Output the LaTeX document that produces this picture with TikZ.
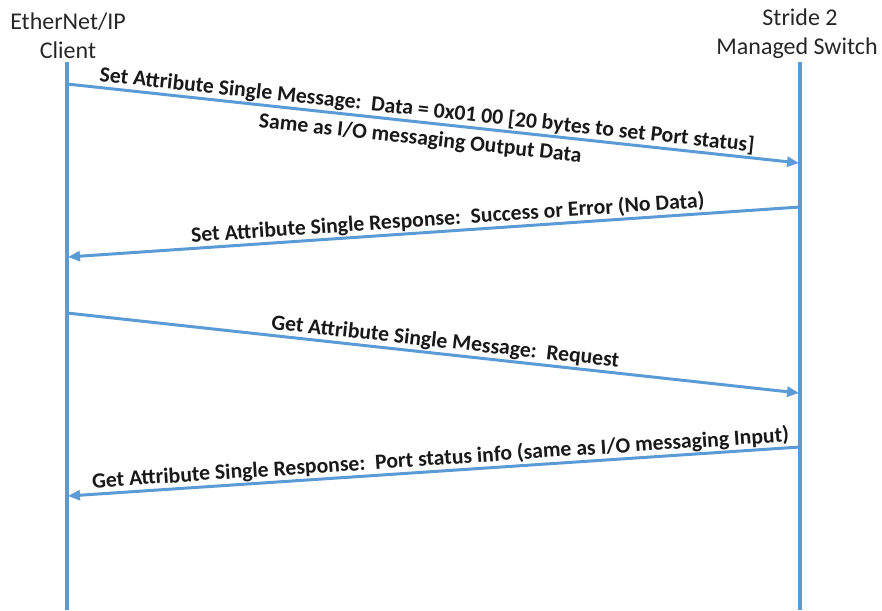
\documentclass[tikz,border=0pt]{standalone}
\usepackage{fontspec}
\setmainfont{Carlito}
\usetikzlibrary{arrows.meta}
\definecolor{lineblue}{RGB}{91,155,213}
\tikzset{
  header/.style={font=\fontsize{24}{28}\selectfont, text=black!85, inner sep=0pt, anchor=base},
  lifeline/.style={draw=lineblue, line width=3.4pt},
  msg/.style={draw=lineblue, line width=3pt, -{Triangle[length=12pt,width=10pt]}},
  lbl/.style={font=\bfseries\fontsize{21.7}{25}\selectfont, text=black!90, sloped, inner sep=1pt}
}
\begin{document}
\begin{tikzpicture}[x=1pt,y=-1pt]
\useasboundingbox (0,0) rectangle (882,610);
% headers
\node[header] (c1) at (68,30) {EtherNet/IP};
\node[header] (c2) at (68,58) {Client};
\node[header] (s1) at (800,26) {Stride 2};
\node[header] (s2) at (797,54) {Managed Switch};
% lifelines
\coordinate (ltop) at (67,62);
\coordinate (lbot) at (67,610);
\coordinate (rtop) at (800,62);
\coordinate (rbot) at (800,610);
\draw[lifeline] (ltop) -- (lbot);
\draw[lifeline] (rtop) -- (rbot);
% message end points
\coordinate (a1) at (67,84);   \coordinate (b1) at (799,163);
\coordinate (a2) at (800,207); \coordinate (b2) at (68,257);
\coordinate (a3) at (67,313);  \coordinate (b3) at (799,393);
\coordinate (a4) at (800,447); \coordinate (b4) at (68,496);
% messages
\draw[msg] (a1) -- node[lbl, above, pos=0.49] (t1) {Set Attribute Single Message:~~Data = 0x01 00 [20 bytes to set Port status]}
  node[lbl, below, pos=0.485, inner sep=6pt] (t1b) {Same as I/O messaging Output Data} (b1);
\draw[msg] (a2) -- node[lbl, above, pos=0.48] (t2) {Set Attribute Single Response:~~Success or Error (No Data)} (b2);
\draw[msg] (a3) -- node[lbl, above, pos=0.515] (t3) {Get Attribute Single Message:~~Request} (b3);
\draw[msg] (a4) -- node[lbl, above, pos=0.49] (t4) {Get Attribute Single Response:~~Port status info (same as I/O messaging Input)} (b4);
\end{tikzpicture}
\end{document}
